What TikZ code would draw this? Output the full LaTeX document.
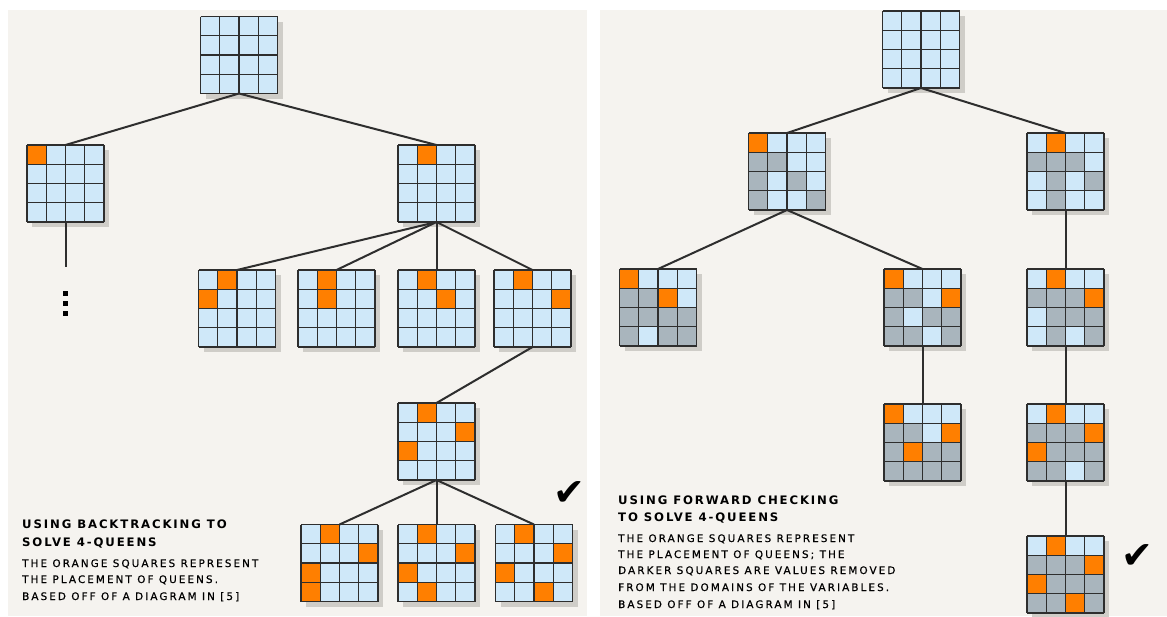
\documentclass[tikz,border=0pt]{standalone}
\usepackage{fontspec}
\setmainfont{DejaVu Sans}
\newfontfamily\bodyfont[LetterSpace=20,FakeBold=0.6]{DejaVu Sans}
\newfontfamily\titlefont[LetterSpace=16]{DejaVu Sans Bold}
\newfontfamily\symfont{DejaVu Sans}
\usetikzlibrary{calc}
\definecolor{bgc}{HTML}{F5F3EF}
\definecolor{qblue}{HTML}{CFE8F9}
\definecolor{qgray}{HTML}{A9B5BD}
\definecolor{qorange}{HTML}{FF7F00}
\definecolor{qline}{HTML}{2E2E2E}
\definecolor{qshadow}{HTML}{CFCDC8}
\tikzset{
  boardbox/.style={minimum size=77pt, inner sep=0pt, outer sep=0pt, fill=qblue, draw=none},
  gridline/.style={line width=1.4pt, draw=qline},
  edge/.style={line width=2pt, draw=qline},
  titletext/.style={anchor=base west, inner sep=0pt, font=\titlefont\fontsize{11.7}{13}\selectfont, text=black},
  bodytext/.style={anchor=base west, inner sep=0pt, font=\bodyfont\fontsize{10.4}{12}\selectfont, text=black},
  checkmark/.style={inner sep=0pt, font=\symfont\fontsize{38}{38}\selectfont, text=black}
}
% board: name, center
\newcommand\qboard[2]{%
  \fill[qshadow] ($#2+(-33.5,-33.5)$) rectangle ++(77,77);
  \node[boardbox] (#1) at #2 {};
}
% cells: name, colour, list of row/col
\newcommand\qcells[3]{%
  \foreach \qr/\qc in {#3} {\fill[#2] ($(#1.north west)+(\qc*19.25,\qr*19.25)$) rectangle ++(19.25,19.25);}
}
\newcommand\qgrid[1]{%
  \foreach \qi in {0,...,4} {
    \draw[gridline] ($(#1.north west)+(\qi*19.25,0)$) -- ++(0,77);
    \draw[gridline] ($(#1.north west)+(0,\qi*19.25)$) -- ++(77,0);
  }
}
\begin{document}
\begin{tikzpicture}[x=1pt,y=-1pt]
\useasboundingbox (0,0) rectangle (1167,616);
\fill[white] (0,0) rectangle (1167,616);
\fill[bgc] (8,10) rectangle (587,616);
\fill[bgc] (600,10) rectangle (1167,616);

% ---------------- left: backtracking ----------------
\qboard{T}{(239,55)} \qgrid{T}
\qboard{La}{(65.5,183.5)} \qcells{La}{qorange}{0/0} \qgrid{La}
\qboard{Lb}{(436.5,183.5)} \qcells{Lb}{qorange}{0/1} \qgrid{Lb}
\qboard{Lc1}{(237,308.5)} \qcells{Lc1}{qorange}{0/1,1/0} \qgrid{Lc1}
\qboard{Lc2}{(336.5,308.5)} \qcells{Lc2}{qorange}{0/1,1/1} \qgrid{Lc2}
\qboard{Lc3}{(436.5,308.5)} \qcells{Lc3}{qorange}{0/1,1/2} \qgrid{Lc3}
\qboard{Lc4}{(532.5,308.5)} \qcells{Lc4}{qorange}{0/1,1/3} \qgrid{Lc4}
\qboard{Ld}{(436.5,441.5)} \qcells{Ld}{qorange}{0/1,1/3,2/0} \qgrid{Ld}
\qboard{Le1}{(339.5,563)} \qcells{Le1}{qorange}{0/1,1/3,2/0,3/0} \qgrid{Le1}
\qboard{Le2}{(436.5,563)} \qcells{Le2}{qorange}{0/1,1/3,2/0,3/1} \qgrid{Le2}
\qboard{Le3}{(534,563)} \qcells{Le3}{qorange}{0/1,1/3,2/0,3/2} \qgrid{Le3}

\coordinate (Laend) at (65.5,267);
\draw[edge] (T.south) -- (La.north);
\draw[edge] (T.south) -- (Lb.north);
\draw[edge] (La.south) -- (Laend);
\foreach \n in {Lc1,Lc2,Lc3,Lc4} {\draw[edge] (Lb.south) -- (\n.north);}
\draw[edge] (Lc4.south) -- (Ld.north);
\foreach \n in {Le1,Le2,Le3} {\draw[edge] (Ld.south) -- (\n.north);}

\fill[black] (63,291) rectangle ++(5,5);
\fill[black] (63,301) rectangle ++(5,5);
\fill[black] (63,311) rectangle ++(5,5);

\node[checkmark] (chkL) at (569,494) {✔};

\node[titletext] (lt1) at (22,528) {USING BACKTRACKING TO};
\node[titletext] (lt2) at (22,546) {SOLVE 4-QUEENS};
\node[bodytext] (lb1) at (22,567) {THE ORANGE SQUARES REPRESENT};
\node[bodytext] (lb2) at (22,583) {THE PLACEMENT OF QUEENS.};
\node[bodytext] (lb3) at (22,600) {BASED OFF OF A DIAGRAM IN [5]};

% ---------------- right: forward checking ----------------
\qboard{RT}{(921,49.5)} \qgrid{RT}
\qboard{Ra}{(787,171.5)}
  \qcells{Ra}{qorange}{0/0}
  \qcells{Ra}{qgray}{1/0,1/1,2/0,2/2,3/0,3/3}
  \qgrid{Ra}
\qboard{Rb}{(1065.5,171.5)}
  \qcells{Rb}{qorange}{0/1}
  \qcells{Rb}{qgray}{1/0,1/1,1/2,2/1,2/3,3/1}
  \qgrid{Rb}
\qboard{Rc1}{(658,307.5)}
  \qcells{Rc1}{qorange}{0/0,1/2}
  \qcells{Rc1}{qgray}{1/0,1/1,2/0,2/1,2/2,2/3,3/0,3/2,3/3}
  \qgrid{Rc1}
\qboard{Rc2}{(922.5,307.5)}
  \qcells{Rc2}{qorange}{0/0,1/3}
  \qcells{Rc2}{qgray}{1/0,1/1,2/0,2/2,2/3,3/0,3/1,3/3}
  \qgrid{Rc2}
\qboard{Rc3}{(1065.5,307.5)}
  \qcells{Rc3}{qorange}{0/1,1/3}
  \qcells{Rc3}{qgray}{1/0,1/1,1/2,2/1,2/2,2/3,3/1,3/3}
  \qgrid{Rc3}
\qboard{Rd1}{(922.5,442.5)}
  \qcells{Rd1}{qorange}{0/0,1/3,2/1}
  \qcells{Rd1}{qgray}{1/0,1/1,2/0,2/2,2/3,3/0,3/1,3/2,3/3}
  \qgrid{Rd1}
\qboard{Rd2}{(1065.5,442.5)}
  \qcells{Rd2}{qorange}{0/1,1/3,2/0}
  \qcells{Rd2}{qgray}{1/0,1/1,1/2,2/1,2/2,2/3,3/0,3/1,3/3}
  \qgrid{Rd2}
\qboard{Re}{(1065.5,574.5)}
  \qcells{Re}{qorange}{0/1,1/3,2/0,3/2}
  \qcells{Re}{qgray}{1/0,1/1,1/2,2/1,2/2,2/3,3/0,3/1,3/3}
  \qgrid{Re}

\draw[edge] (RT.south) -- (Ra.north);
\draw[edge] (RT.south) -- (Rb.north);
\draw[edge] (Ra.south) -- (Rc1.north);
\draw[edge] (Ra.south) -- (Rc2.north);
\draw[edge] (Rb.south) -- (Rc3.north);
\draw[edge] (Rc2.south) -- (Rd1.north);
\draw[edge] (Rc3.south) -- (Rd2.north);
\draw[edge] (Rd2.south) -- (Re.north);

\node[checkmark] (chkR) at (1137,557) {✔};

\node[titletext] (rt1) at (618,504) {USING FORWARD CHECKING};
\node[titletext] (rt2) at (618,521) {TO SOLVE 4-QUEENS};
\node[bodytext] (rb1) at (618,542) {THE ORANGE SQUARES REPRESENT};
\node[bodytext] (rb2) at (618,558) {THE PLACEMENT OF QUEENS; THE};
\node[bodytext] (rb3) at (618,574) {DARKER SQUARES ARE VALUES REMOVED};
\node[bodytext] (rb4) at (618,591) {FROM THE DOMAINS OF THE VARIABLES.};
\node[bodytext] (rb5) at (618,608) {BASED OFF OF A DIAGRAM IN [5]};
\end{tikzpicture}
\end{document}
